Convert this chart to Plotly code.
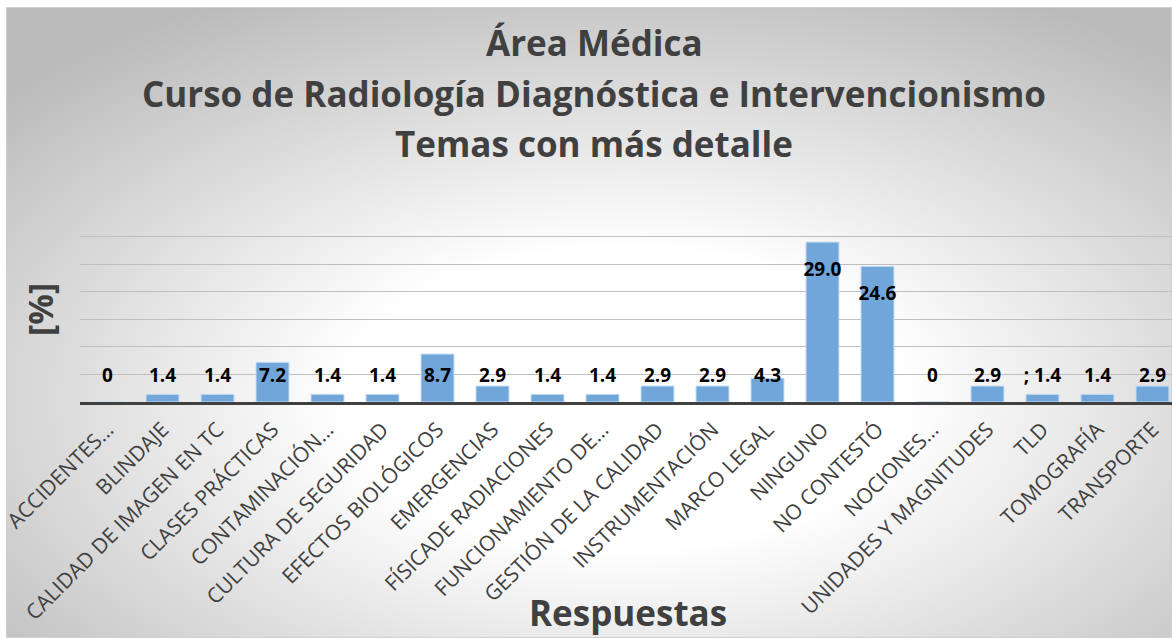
import base64
import plotly.graph_objects as go

categories = [
    "ACCIDENTES…", "BLINDAJE", "CALIDAD DE IMAGEN EN TC", "CLASES PRÁCTICAS",
    "CONTAMINACIÓN…", "CULTURA DE SEGURIDAD", "EFECTOS BIOLÓGICOS", "EMERGENCIAS",
    "FÍSICADE RADIACIONES", "FUNCIONAMIENTO DE…", "GESTIÓN DE LA CALIDAD",
    "INSTRUMENTACIÓN", "MARCO LEGAL", "NINGUNO", "NO CONTESTÓ", "NOCIONES…",
    "UNIDADES Y MAGNITUDES", "TLD", "TOMOGRAFÍA", "TRANSPORTE",
]
values = [0, 1.4, 1.4, 7.2, 1.4, 1.4, 8.7, 2.9, 1.4, 1.4, 2.9, 2.9, 4.3,
          29.0, 24.6, 0, 2.9, 1.4, 1.4, 2.9]
labels = ["0", "1.4", "1.4", "7.2", "1.4", "1.4", "8.7", "2.9", "1.4", "1.4",
          "2.9", "2.9", "4.3", "29.0", "24.6", "0", "2.9", "; 1.4", "1.4", "2.9"]
title_lines = ["Área Médica",
               "Curso de Radiología Diagnóstica e Intervencionismo",
               "Temas con más detalle"]
y_ticks = [0, 5, 10, 15, 20, 25, 30, 35]

FONT = "Open Sans"
DARK = "#404040"

W, H = 1172, 638
ML, MR, MT, MB = 80, 0, 209, 236
PW, PH = W - ML - MR, H - MT - MB

# background radial gradient (as SVG image)
svg = (
    '<svg xmlns="http://www.w3.org/2000/svg" width="1166" height="631" '
    'preserveAspectRatio="none" viewBox="0 0 1166 631">'
    '<defs><radialGradient id="g" cx="0.53" cy="0.62" r="0.72">'
    '<stop offset="0" stop-color="#ffffff"/>'
    '<stop offset="0.33" stop-color="#ffffff"/>'
    '<stop offset="1" stop-color="#bababa"/>'
    '</radialGradient></defs>'
    '<rect x="0" y="0" width="1166" height="631" fill="url(#g)" '
    'stroke="#d0d0d0" stroke-width="2"/></svg>'
)
src = "data:image/svg+xml;base64," + base64.b64encode(svg.encode()).decode()


def px_to_paper_x(px):
    return (px - ML) / PW


def px_to_paper_y(py):
    return (H - MB - py) / PH


label_y = [max(v - 5.3, 4.4) for v in values]

fig = go.Figure()
fig.add_trace(go.Bar(
    x=list(range(len(categories))), y=values,
    marker=dict(color="#70A6DA", line=dict(color="#C9DEF1", width=1)),
    hoverinfo="skip",
))
fig.add_trace(go.Scatter(
    x=list(range(len(categories))), y=label_y, text=labels, mode="text",
    textposition="middle center",
    textfont=dict(family=FONT, size=19, color="#000000", weight="bold"),
    hoverinfo="skip",
))

annotations = []
for line, py in zip(title_lines, [42, 93, 143]):
    annotations.append(dict(
        text=line, xref="paper", yref="paper",
        x=px_to_paper_x(594), y=px_to_paper_y(py),
        xanchor="center", yanchor="middle", showarrow=False,
        font=dict(family=FONT, size=35, color=DARK, weight="bold"),
    ))
annotations.append(dict(
    text="Respuestas", xref="paper", yref="paper",
    x=px_to_paper_x(628), y=px_to_paper_y(612),
    xanchor="center", yanchor="middle", showarrow=False,
    font=dict(family=FONT, size=35, color=DARK, weight="bold"),
))
annotations.append(dict(
    text="[%]", xref="paper", yref="paper",
    x=px_to_paper_x(40), y=px_to_paper_y(310), textangle=-90,
    xanchor="center", yanchor="middle", showarrow=False,
    font=dict(family=FONT, size=34, color=DARK, weight="bold"),
))

fig.update_layout(
    width=W, height=H, autosize=False,
    margin=dict(l=ML, r=MR, t=MT, b=MB, pad=0),
    paper_bgcolor="rgba(0,0,0,0)", plot_bgcolor="rgba(0,0,0,0)",
    showlegend=False, bargap=0.4,
    annotations=annotations,
    images=[dict(
        source=src, xref="paper", yref="paper",
        x=px_to_paper_x(6), y=px_to_paper_y(7),
        sizex=(W - 6) / PW, sizey=(H - 7) / PH,
        xanchor="left", yanchor="top", sizing="stretch", layer="below",
    )],
    xaxis=dict(
        range=[-0.5, 19.355], tickmode="array",
        tickvals=list(range(len(categories))), ticktext=categories,
        tickangle=-45, showgrid=False, zeroline=False,
        showline=True, linecolor=DARK, linewidth=3, ticks="",
        ticklabelstandoff=4,
        tickfont=dict(family=FONT, size=21, color=DARK),
    ),
    yaxis=dict(
        range=[0, 35], tickvals=y_ticks, showticklabels=False,
        showgrid=True, gridcolor="#BFBFBF", gridwidth=1,
        zeroline=False, showline=False,
    ),
)

fig.write_html(
    "out.html",
    config={"displayModeBar": False},
    post_script="document.body.style.margin='0';document.body.style.overflow='hidden';",
)
